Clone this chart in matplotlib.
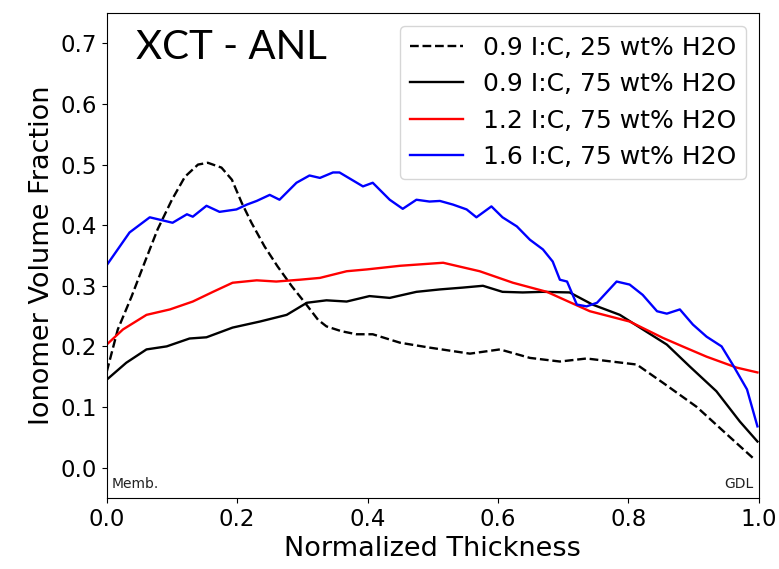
import matplotlib.pyplot as plt

# 0.9 I:C, 25 wt% H2O (dashed)
x_d = [0.0, 0.017, 0.038, 0.058, 0.078, 0.1, 0.12, 0.14, 0.155, 0.176, 0.192, 0.207, 0.222,
       0.242, 0.262, 0.284, 0.304, 0.324, 0.337, 0.36, 0.383, 0.408, 0.45, 0.495, 0.557, 0.603,
       0.649, 0.695, 0.736, 0.813, 0.853, 0.905, 0.955, 0.994]
y_d = [0.158, 0.228, 0.282, 0.338, 0.393, 0.442, 0.48, 0.5, 0.503, 0.495, 0.475, 0.437, 0.404,
       0.365, 0.332, 0.299, 0.272, 0.244, 0.233, 0.225, 0.22, 0.22, 0.206, 0.198, 0.188, 0.195,
       0.181, 0.175, 0.18, 0.17, 0.14, 0.10, 0.051, 0.013]

# 0.9 I:C, 75 wt% H2O
x_k = [0.0, 0.03, 0.061, 0.092, 0.127, 0.153, 0.193, 0.235, 0.276, 0.307, 0.337, 0.368, 0.403,
       0.434, 0.475, 0.511, 0.546, 0.577, 0.607, 0.638, 0.669, 0.71, 0.745, 0.787, 0.828, 0.859,
       0.894, 0.935, 0.971, 0.998]
y_k = [0.145, 0.173, 0.195, 0.2, 0.213, 0.215, 0.231, 0.241, 0.252, 0.272, 0.276, 0.274, 0.283,
       0.28, 0.29, 0.294, 0.297, 0.30, 0.29, 0.289, 0.29, 0.289, 0.269, 0.252, 0.224, 0.203,
       0.167, 0.126, 0.076, 0.043]

# 1.2 I:C, 75 wt% H2O
x_r = [0.0, 0.025, 0.061, 0.097, 0.132, 0.163, 0.193, 0.23, 0.26, 0.296, 0.327, 0.368, 0.399,
       0.45, 0.516, 0.572, 0.623, 0.675, 0.741, 0.802, 0.853, 0.883, 0.92, 0.966, 0.998]
y_r = [0.203, 0.228, 0.252, 0.261, 0.274, 0.29, 0.305, 0.309, 0.307, 0.31, 0.313, 0.324, 0.327,
       0.333, 0.338, 0.324, 0.305, 0.29, 0.258, 0.241, 0.214, 0.2, 0.183, 0.165, 0.157]

# 1.6 I:C, 75 wt% H2O
x_b = [0.0, 0.035, 0.066, 0.101, 0.123, 0.132, 0.153, 0.173, 0.199, 0.215, 0.23, 0.25, 0.265,
       0.291, 0.311, 0.327, 0.347, 0.357, 0.393, 0.408, 0.434, 0.454, 0.475, 0.495, 0.511, 0.531,
       0.552, 0.567, 0.59, 0.607, 0.629, 0.649, 0.669, 0.684, 0.695, 0.706, 0.721, 0.736, 0.752,
       0.782, 0.802, 0.822, 0.844, 0.859, 0.879, 0.899, 0.92, 0.943, 0.96, 0.982, 0.998]
y_b = [0.334, 0.388, 0.413, 0.404, 0.418, 0.414, 0.432, 0.422, 0.426, 0.434, 0.44, 0.45, 0.442,
       0.47, 0.482, 0.478, 0.487, 0.487, 0.464, 0.47, 0.442, 0.427, 0.442, 0.439, 0.44, 0.434,
       0.426, 0.413, 0.431, 0.413, 0.398, 0.376, 0.36, 0.34, 0.31, 0.307, 0.269, 0.266, 0.272,
       0.307, 0.302, 0.285, 0.258, 0.254, 0.261, 0.236, 0.216, 0.2, 0.17, 0.129, 0.068]

labels = ['0.9 I:C, 25 wt% H2O', '0.9 I:C, 75 wt% H2O',
          '1.2 I:C, 75 wt% H2O', '1.6 I:C, 75 wt% H2O']

fig = plt.figure(figsize=(7.79, 5.69), dpi=100)
ax = fig.add_axes([0.137, 0.125, 0.837, 0.852])

lw = 1.7
ax.plot(x_d, y_d, 'k--', lw=lw, label=labels[0])
ax.plot(x_k, y_k, 'k-', lw=lw, label=labels[1])
ax.plot(x_r, y_r, color='red', lw=lw, label=labels[2])
ax.plot(x_b, y_b, color='blue', lw=lw, label=labels[3])

ax.set_xlim(0, 1.0)
ax.set_ylim(-0.05, 0.75)
ax.set_xticks([0.0, 0.2, 0.4, 0.6, 0.8, 1.0])
ax.set_yticks([0.0, 0.1, 0.2, 0.3, 0.4, 0.5, 0.6, 0.7])
ax.tick_params(labelsize=16.5)
ax.set_xlabel('Normalized Thickness', fontsize=19.5)
ax.set_ylabel('Ionomer Volume Fraction', fontsize=19.5)

ax.text(0.045, 0.93, 'XCT - ANL', transform=ax.transAxes, fontsize=29,
        family='Lato', va='center', ha='left')
ax.text(0.008, 0.02, 'Memb.', transform=ax.transAxes, fontsize=10, color='#222222')
ax.text(0.992, 0.02, 'GDL', transform=ax.transAxes, fontsize=10, ha='right', color='#222222')

ax.legend(loc='upper right', fontsize=18, handlelength=2.1)

fig.savefig('out.png', dpi=100)
